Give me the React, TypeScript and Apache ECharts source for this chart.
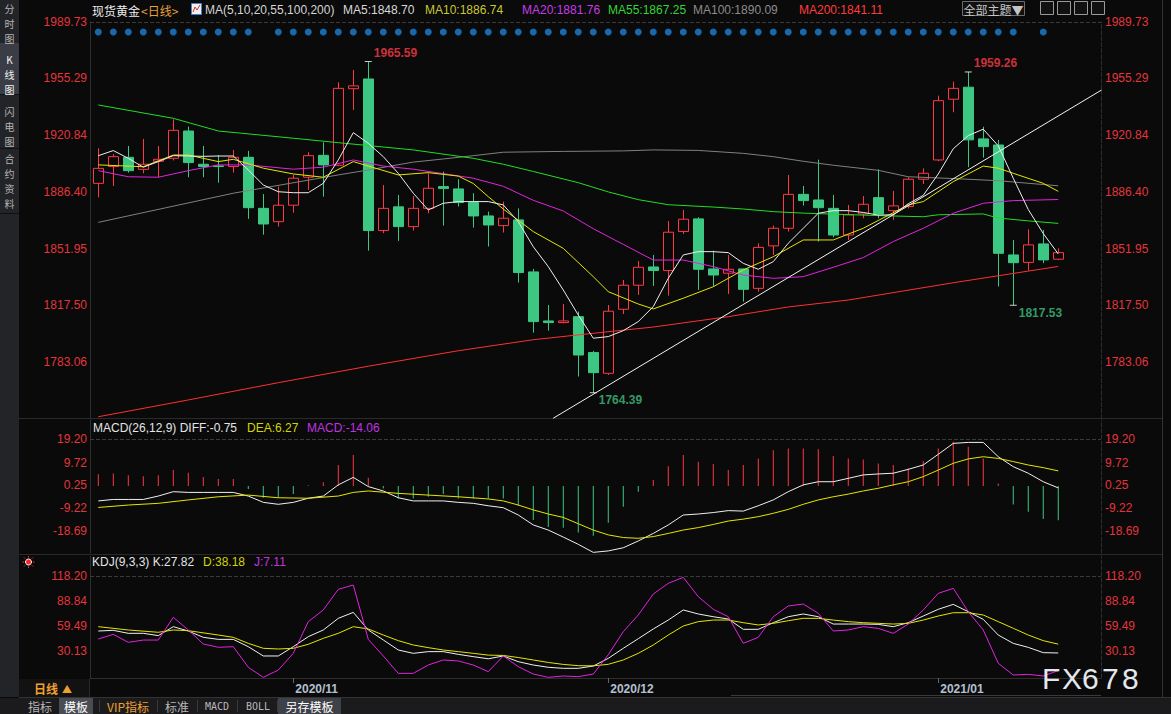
import React, { useEffect, useRef } from 'react';
import * as echarts from 'echarts';

// ---------- data ----------
const X_LABELS = ['2020/11', '2020/12', '2021/01'];
const X_LABEL_AT = [13, 34, 56];

const PRICE_TICKS = [1989.73, 1955.29, 1920.84, 1886.4, 1851.95, 1817.5, 1783.06];
const MACD_TICKS = [19.2, 9.72, 0.25, -9.22, -18.69];
const KDJ_TICKS = [118.2, 88.84, 59.49, 30.13];

const OPEN = [1891.6, 1901.8, 1907.4, 1900.1, 1905.0, 1906.8, 1923.4, 1903.2, 1902.2, 1901.8,
  1907.4, 1876.4, 1868.3, 1878.3, 1895.3, 1908.6, 1902.6, 1949.1, 1955.0, 1862.9,
  1877.3, 1865.3, 1876.4, 1889.6, 1888.2, 1879.9, 1871.8, 1865.9, 1869.4, 1837.8,
  1808.0, 1807.0, 1810.6, 1788.8, 1776.2, 1815.1, 1829.7, 1840.8, 1838.6, 1862.3,
  1870.0, 1839.6, 1837.0, 1839.6, 1827.8, 1853.6, 1864.3, 1884.9, 1881.5, 1876.4,
  1860.2, 1873.0, 1882.9, 1875.0, 1877.5, 1894.1, 1905.8, 1942.7, 1950.0, 1918.6,
  1914.9, 1848.1, 1843.6, 1854.8, 1845.5];
const CLOSE = [1900.7, 1907.8, 1899.3, 1903.2, 1906.2, 1923.8, 1904.2, 1901.8, 1901.8, 1907.4,
  1876.8, 1866.9, 1878.3, 1894.7, 1908.4, 1902.8, 1949.3, 1950.8, 1862.9, 1876.4,
  1865.3, 1876.4, 1888.6, 1888.4, 1879.9, 1871.8, 1866.3, 1870.4, 1837.4, 1807.6,
  1807.0, 1808.0, 1787.3, 1776.6, 1813.9, 1829.7, 1840.6, 1838.6, 1861.9, 1869.8,
  1839.4, 1835.9, 1839.4, 1827.2, 1852.7, 1864.3, 1884.9, 1881.1, 1876.8, 1860.2,
  1872.4, 1878.9, 1873.0, 1877.9, 1894.1, 1897.7, 1941.8, 1949.3, 1918.0, 1913.9,
  1849.1, 1843.4, 1854.2, 1845.1, 1849.5];
const LOW = [1883.1, 1890.0, 1898.1, 1897.7, 1895.3, 1905.5, 1895.3, 1895.3, 1892.0, 1898.1,
  1870.0, 1860.4, 1865.3, 1873.8, 1887.6, 1883.5, 1902.0, 1936.2, 1850.7, 1861.3,
  1856.6, 1862.9, 1873.4, 1865.9, 1877.5, 1864.7, 1853.2, 1861.7, 1831.3, 1800.9,
  1802.1, 1806.6, 1774.2, 1764.39, 1775.2, 1812.2, 1823.8, 1829.3, 1823.4, 1860.8,
  1826.8, 1828.9, 1824.4, 1819.7, 1825.8, 1848.1, 1862.3, 1878.1, 1856.2, 1858.8,
  1857.2, 1870.4, 1870.4, 1869.4, 1876.4, 1891.2, 1905.0, 1934.8, 1901.4, 1907.2,
  1828.9, 1817.53, 1838.6, 1843.1, 1845.0];
const HIGH = [1912.9, 1909.4, 1914.3, 1918.6, 1914.3, 1930.5, 1926.1, 1914.3, 1908.8, 1911.9,
  1911.3, 1885.1, 1889.6, 1896.7, 1910.5, 1916.5, 1953.0, 1960.5, 1965.59, 1890.6,
  1884.5, 1883.9, 1897.7, 1898.7, 1894.1, 1885.6, 1874.4, 1880.5, 1876.4, 1839.6,
  1817.7, 1818.3, 1813.7, 1789.8, 1817.7, 1832.9, 1844.4, 1848.1, 1868.7, 1875.4,
  1871.0, 1850.7, 1848.1, 1839.8, 1855.2, 1865.9, 1896.7, 1890.0, 1906.0, 1884.5,
  1878.5, 1883.9, 1900.1, 1887.0, 1895.3, 1900.7, 1944.9, 1953.4, 1959.26, 1926.0,
  1918.0, 1857.2, 1863.7, 1863.3, 1852.1];

const MA5 = [1908.4, 1911.5, 1906.8, 1901.4, 1904.8, 1908.4, 1908.2, 1908.0, 1908.2, 1908.2,
  1899.7, 1890.6, 1886.5, 1885.9, 1885.9, 1891.6, 1905.8, 1922.4, 1915.9, 1907.8,
  1897.7, 1885.6, 1875.4, 1879.5, 1880.5, 1880.5, 1880.5, 1878.5, 1868.3, 1853.1,
  1841.0, 1826.8, 1811.6, 1797.5, 1798.5, 1802.1, 1807.6, 1816.7, 1833.9, 1848.1,
  1850.1, 1850.1, 1849.5, 1843.0, 1839.4, 1844.0, 1855.2, 1864.3, 1873.4, 1875.0,
  1875.0, 1873.9, 1872.3, 1872.5, 1879.2, 1884.3, 1897.3, 1912.6, 1920.6, 1924.5,
  1914.4, 1894.7, 1875.7, 1861.1, 1848.7];
const MA10 = [[0, 1902.8], [3, 1901.7], [5, 1908.8], [6, 1908.8], [8, 1904.8], [9, 1906.2], [11, 1900.8],
  [13, 1897.3], [15, 1895.3], [17, 1904.8], [18, 1902.1], [20, 1896.7], [22, 1898.1], [24, 1896.0],
  [25, 1891.5], [26, 1883.5], [27, 1876.0], [29, 1862.3], [31, 1852.1], [33, 1834.9], [34, 1825.8],
  [36, 1818.3], [37, 1815.3], [39, 1821.8], [41, 1828.8], [43, 1839.0], [44, 1843.0], [45, 1847.0],
  [47, 1857.2], [49, 1857.2], [51, 1864.3], [54, 1878.5], [55, 1880.5], [57, 1892.6], [59, 1902.1],
  [60, 1900.8], [61, 1897.7], [63, 1891.6], [64, 1886.74]];
const MA20 = [[0, 1899.3], [2, 1895.6], [4, 1895.3], [6, 1899.3], [8, 1902.8], [10, 1902.8], [13, 1900.2],
  [15, 1901.4], [17, 1905.8], [19, 1902.1], [21, 1900.2], [23, 1897.5], [25, 1894.7], [27, 1889.8],
  [29, 1881.3], [31, 1874.8], [33, 1864.0], [35, 1854.5], [37, 1845.0], [39, 1845.0], [41, 1841.0],
  [43, 1835.9], [45, 1833.9], [47, 1834.9], [49, 1840.6], [51, 1846.5], [53, 1856.2], [55, 1864.3],
  [57, 1873.4], [59, 1879.5], [61, 1881.1], [64, 1881.76]];
const MA55 = [[0, 1939.2], [5, 1931.1], [8, 1923.4], [13, 1919.0], [16, 1916.3], [21, 1911.9], [25, 1906.8],
  [27, 1903.2], [29, 1898.8], [32, 1892.0], [34, 1886.4], [36, 1881.7], [38, 1878.6], [41, 1877.2],
  [43, 1876.0], [45, 1874.4], [47, 1873.5], [50, 1872.6], [52, 1872.0], [55, 1871.3], [56, 1872.5],
  [59, 1873.0], [60, 1870.5], [62, 1868.8], [64, 1867.25]];
const MA100 = [[0, 1867.9], [9, 1885.6], [16, 1896.7], [18, 1899.7], [21, 1904.5], [23, 1906.4], [25, 1908.4],
  [27, 1910.5], [31, 1911.0], [35, 1911.3], [37, 1911.9], [40, 1911.6], [43, 1909.8], [45, 1907.8],
  [47, 1905.0], [49, 1902.6], [52, 1899.5], [54, 1895.6], [57, 1894.5], [60, 1893.2], [64, 1890.09]];
const MA200 = [[0, 1749.8], [6, 1760.0], [12, 1770.5], [18, 1780.5], [24, 1789.9], [29, 1796.6], [33, 1800.5],
  [37, 1804.3], [42, 1810.6], [46, 1816.5], [50, 1820.7], [57, 1831.2], [64, 1841.11]];
const TRENDLINE = [[30.33, 1748.9], [66.89, 1948.3]];

const MARK_IDX = [18, 33, 58, 61];
const MARK_VAL = [1965.59, 1764.39, 1959.26, 1817.53];
const MARK_HIGH = [true, false, true, false];

const EVENT_IDX = [0, 1, 2, 3, 4, 5, 6, 7, 8, 9, 10, 12, 13, 14, 15, 16, 17, 18, 19, 20, 21, 22, 23, 24, 25, 26,
  27, 28, 29, 30, 31, 32, 33, 34, 35, 36, 37, 38, 39, 40, 41, 42, 43, 44, 45, 46, 47, 48, 49, 50, 51, 52, 53,
  54, 55, 56, 57, 58, 59, 60, 61, 63];

const MACD_HIST = [4.9, 5.2, 4.5, 4.1, 4.5, 6.6, 5.5, 3.7, 2.9, 2.9,
  -1.2, -4.8, -4.8, -3.3, 0.4, 1.6, 8.7, 12.8, 3.4, -1.0,
  -5.1, -5.1, -4.4, -3.3, -5.1, -5.1, -5.1, -5.1, -8.1, -14.0,
  -16.8, -17.2, -19.1, -20.5, -15.1, -8.5, -2.3, 2.5, 8.2, 12.8,
  10.0, 9.1, 6.6, 8.7, 11.4, 14.8, 15.5, 15.5, 15.2, 12.4,
  11.4, 11.0, 9.3, 8.7, 7.3, 10.3, 15.5, 18.3, 16.2, 11.4,
  1.1, -7.6, -10.6, -13.6, -14.06];
const DIFF = [-6.1, -5.5, -5.5, -5.5, -4.1, -2.3, -2.6, -2.6, -2.6, -2.6,
  -4.1, -6.7, -7.5, -6.7, -5.0, -4.1, 0.5, 3.6, -0.2, -2.0,
  -4.8, -6.1, -6.1, -6.1, -6.7, -7.1, -8.1, -8.9, -11.9, -16.0,
  -18.1, -21.0, -24.0, -27.3, -26.7, -25.4, -22.6, -19.5, -16.0, -11.9,
  -11.5, -10.9, -10.1, -10.3, -8.1, -5.7, -2.3, 0.5, 1.8, 1.8,
  3.2, 4.6, 5.0, 5.3, 6.9, 8.7, 13.1, 17.6, 18.0, 18.0,
  12.1, 8.0, 5.3, 1.8, -0.75];
const DEA = [[0, -8.8], [2, -7.8], [4, -7.1], [6, -5.7], [8, -4.4], [10, -3.7], [12, -4.8], [14, -5.0],
  [16, -4.1], [17, -2.6], [18, -2.0], [20, -3.0], [22, -3.7], [24, -4.4], [26, -5.3], [27, -6.1],
  [28, -7.8], [29, -9.8], [30, -11.5], [31, -12.9], [32, -15.5], [33, -18.1], [34, -20.1], [35, -21.2],
  [36, -21.5], [37, -20.8], [38, -19.5], [39, -18.1], [40, -17.1], [41, -15.8], [42, -14.4], [43, -13.6],
  [44, -12.6], [45, -11.2], [46, -9.6], [47, -7.5], [48, -5.7], [49, -4.4], [50, -3.3], [51, -2.0],
  [52, -0.9], [53, 0.5], [54, 1.8], [55, 3.9], [56, 6.6], [57, 9.4], [58, 11.2], [59, 12.1], [60, 11.4],
  [61, 10.1], [62, 8.7], [63, 7.6], [64, 6.27]];

const K_LINE = [53.6, 54.4, 50.9, 50.9, 48.2, 58.7, 53.6, 46.2, 43.8, 43.8,
  35.2, 24.3, 24.3, 35.2, 47.0, 54.8, 68.5, 75.5, 54.8, 43.1,
  31.3, 27.4, 29.4, 29.4, 26.2, 23.5, 21.0, 24.3, 17.6, 13.7,
  11.0, 9.8, 9.8, 12.5, 21.5, 33.3, 44.6, 56.0, 66.5, 78.3,
  73.6, 70.4, 67.7, 55.6, 55.6, 63.4, 70.4, 73.6, 70.4, 61.8,
  61.8, 61.8, 61.4, 58.7, 63.4, 71.2, 79.1, 84.9, 76.3, 67.3,
  48.9, 39.1, 34.4, 28.2, 27.82];
const D_LINE = [[0, 58.7], [2, 54.8], [4, 52.1], [5, 54.8], [6, 54.0], [8, 48.9], [9, 46.2], [10, 39.1],
  [11, 33.3], [12, 32.5], [13, 33.3], [14, 38.0], [15, 45.0], [16, 50.9], [17, 58.7], [18, 56.0],
  [19, 48.9], [20, 42.3], [21, 37.2], [22, 34.1], [23, 31.3], [24, 29.4], [25, 27.4], [26, 25.3],
  [27, 24.9], [28, 22.5], [29, 19.6], [30, 16.7], [31, 14.4], [32, 12.9], [33, 12.7], [34, 14.5],
  [35, 19.6], [36, 27.4], [37, 37.2], [38, 48.9], [39, 59.5], [40, 64.6], [41, 66.5], [42, 66.5],
  [43, 63.4], [44, 60.7], [45, 62.6], [46, 65.7], [47, 68.5], [48, 68.5], [49, 66.5], [50, 64.6],
  [51, 63.4], [52, 62.6], [53, 61.8], [54, 62.6], [55, 66.5], [56, 71.2], [57, 75.1], [58, 75.1],
  [59, 72.4], [60, 64.6], [61, 56.8], [62, 48.9], [63, 42.3], [64, 38.18]];
const J_LINE = [44.2, 49.7, 40.3, 43.0, 43.0, 69.7, 54.8, 38.4, 34.5, 35.2,
  11.0, -0.8, 7.8, 27.4, 64.6, 78.3, 102.5, 107.6, 43.8, 24.3,
  3.9, 3.9, 13.7, 19.6, 18.4, 13.7, 5.9, 24.3, 11.7, 3.1,
  -0.8, 0.8, 0.0, 3.1, 25.8, 52.8, 72.4, 97.1, 109.6, 116.6,
  93.9, 79.1, 70.4, 39.1, 46.2, 70.4, 83.0, 85.3, 74.4, 53.6,
  54.8, 58.7, 56.7, 50.9, 61.8, 78.3, 97.8, 103.7, 76.3, 54.8,
  15.7, 2.0, 2.7, 0.8, 7.11];

const SIDE_TABS = ['分\n时\n图', 'K\n线\n图', '闪\n电\n图', '合\n约\n资\n料'];

// ---------- style ----------
const BG = '#0a0a0a';
const RED = '#ff3846';
const GREEN = '#3cc882';
const AXIS_TXT = '#e2363c';
const SANS = '"Liberation Sans", Arial, sans-serif';
const CJK = '"Noto Sans CJK SC", "Liberation Sans", sans-serif';

const X_MIN = -0.553;
const X_MAX = 66.85;
const P_MIN = 1748.615;
const P_MAX = 1989.73;
const M_MIN = -27.56;
const M_MAX = 27.23;
const K_MIN = -1.56;
const K_MAX = 141.68;

function buildOption(): any {
  const hiddenX = (g: number) => ({ type: 'value', gridIndex: g, min: X_MIN, max: X_MAX, show: false });
  const yAx = (g: number, pos: string, min: number, max: number, ticks: number[]) => ({
    type: 'value', gridIndex: g, position: pos, min, max,
    axisLine: { show: true, onZero: false, lineStyle: { color: '#2e2e2e', type: pos === 'left' ? 'solid' : 'dashed' } },
    axisTick: { show: false },
    splitLine: { show: false },
    axisLabel: {
      customValues: ticks, formatter: (v: number) => v.toFixed(2), color: AXIS_TXT,
      fontSize: 12, fontFamily: SANS, margin: pos === 'left' ? 3 : 4,
    },
  });
  const lineS = (data: any[], color: string, xi: number, yi: number, z = 4) => ({
    type: 'line', xAxisIndex: xi, yAxisIndex: yi, data, symbol: 'none', showSymbol: false,
    silent: true, lineStyle: { color, width: 1 }, z, clip: true,
  });
  const topDash = (v: number) => ({
    silent: true, symbol: ['none', 'none'], label: { show: false },
    lineStyle: { color: '#3a3a3a', type: 'dashed', width: 1 }, data: [{ yAxis: v }],
  });

  const G: any[] = [];
  const rect = (x: number, y: number, w: number, h: number, fill: string, extra: any = {}) =>
    G.push({ type: 'rect', silent: true, shape: { x, y, width: w, height: h }, style: { fill, ...extra } });
  const line = (x1: number, y1: number, x2: number, y2: number, stroke: string, dash?: number[]) =>
    G.push({ type: 'line', silent: true, shape: { x1, y1, x2, y2 }, style: { stroke, lineWidth: 1, lineDash: dash } });
  const text = (x: number, y: number, t: string, fill: string, o: any = {}) =>
    G.push({
      type: 'text', silent: true, x, y, z: o.z ?? 10,
      style: { text: t, fill, fontSize: 12, fontFamily: SANS, align: 'left', verticalAlign: 'middle', ...o },
    });

  // left sidebar
  rect(0, 0, 19, 697, '#232428');
  rect(0, 43, 19, 51, '#3a3d45');
  line(0, 94.5, 19, 94.5, '#111');
  line(0, 148.5, 19, 148.5, '#111');
  line(0, 213.5, 19, 213.5, '#111');
  const sideY = [23, 74, 126, 181];
  SIDE_TABS.forEach((t, k) =>
    text(9.5, sideY[k], t, k === 1 ? '#f4f4f4' : '#b4b4b4',
      { align: 'center', fontFamily: CJK, fontSize: 10, lineHeight: 15 }));

  // panel separators
  line(19, 418.5, 1162, 418.5, '#2a2a2a');
  line(19, 554.5, 1162, 554.5, '#2a2a2a');
  line(19, 697.5, 1171, 697.5, '#333');
  line(1162.5, 0, 1162.5, 697, '#333');
  line(731, 695.5, 1101, 695.5, '#3a3a3a');

  // header
  text(92, 10, '现货黄金', '#ececec', { fontFamily: CJK });
  text(141, 10, '<日线>', '#e6a03c', { fontFamily: CJK });
  rect(191.5, 3.5, 10, 11, '#f0f0f0', { stroke: '#4a7fd0', lineWidth: 1 });
  G.push({ type: 'polyline', silent: true, shape: { points: [[193, 12], [195, 7], [197, 10], [200, 5]] }, style: { stroke: '#e03030', lineWidth: 1, fill: 'none' } });
  text(205, 10, 'MA(5,10,20,55,100,200)', '#d4d4d4');
  text(343, 10, 'MA5:1848.70', '#d8d8d8');
  text(425, 10, 'MA10:1886.74', '#c8c832');
  text(522, 10, 'MA20:1881.76', '#c83ce8');
  text(608, 10, 'MA55:1867.25', '#34d434');
  text(693, 10, 'MA100:1890.09', '#8c8c8c');
  text(799, 10, 'MA200:1841.11', '#ff3c3c');
  rect(962.5, 1.5, 62, 14, '#111', { stroke: '#6c6c6c', lineWidth: 1 });
  text(993.5, 9, '全部主题▼', '#c4c4c4', { align: 'center', fontFamily: CJK, fontSize: 12 });
  [1040, 1057, 1074, 1091].forEach((x) => rect(x + 0.5, 1.5, 13, 13, '#111', { stroke: '#9a9a9a', lineWidth: 1 }));

  // MACD title
  text(93, 427.5, 'MACD(26,12,9) DIFF:-0.75', '#e4e4e4');
  text(247, 427.5, 'DEA:6.27', '#d4d400');
  text(307, 427.5, 'MACD:-14.06', '#c034e0');

  // KDJ title
  G.push({ type: 'circle', silent: true, shape: { cx: 28.5, cy: 562, r: 3 }, style: { fill: '#ff2020', stroke: '#ffffff', lineWidth: 1 } });
  [[0, -6], [0, 6], [-6, 0], [6, 0], [-4.5, -4.5], [4.5, 4.5], [-4.5, 4.5], [4.5, -4.5]].forEach(([dx, dy]) =>
    line(28.5 + dx * 0.75, 562 + dy * 0.75, 28.5 + dx, 562 + dy, '#ff3030'));
  text(92, 562, 'KDJ(9,3,3) K:27.82', '#e4e4e4');
  text(203, 562, 'D:38.18', '#d4d400');
  text(254, 562, 'J:7.11', '#c034e0');

  // bottom-left period box
  rect(19, 679, 70, 18, '#121212');
  line(89.5, 679, 89.5, 697, '#2a2a2a');
  text(34, 688, '日线', '#f0a030', { fontFamily: CJK, fontWeight: 'bold' });
  text(62, 688, '▲', '#f0a030', { fontFamily: CJK, fontSize: 10 });

  // bottom tabs
  rect(0, 698, 1171, 16, '#1b1b1d');
  rect(59, 698, 34, 16, '#4a4c54');
  rect(278, 698, 63, 16, '#3f4149');
  [99.5, 157.5, 197.5, 237.5, 277.5].forEach((x) => line(x, 700, x, 712, '#3a3a3a'));
  text(40, 706, '指标', '#b8b8b8', { align: 'center', fontFamily: CJK });
  text(76, 706, '模板', '#ffffff', { align: 'center', fontFamily: CJK });
  text(128, 706, 'VIP指标', '#f0a030', { align: 'center', fontFamily: CJK });
  text(177, 706, '标准', '#b8b8b8', { align: 'center', fontFamily: CJK });
  text(217, 706, 'MACD', '#b8b8b8', { align: 'center', fontFamily: '"DejaVu Sans Mono", monospace', fontSize: 10 });
  text(258, 706, 'BOLL', '#b8b8b8', { align: 'center', fontFamily: '"DejaVu Sans Mono", monospace', fontSize: 10 });
  text(309.5, 706, '另存模板', '#ffffff', { align: 'center', fontFamily: CJK });

  // watermark
  'FX678'.split('').forEach((c, k) =>
    text(1042 + k * 20, 678, c, '#e4e7ec', { fontSize: 30, fontFamily: SANS, z: 100 }));

  const series: any[] = [
    {
      type: 'candlestick', xAxisIndex: 0, yAxisIndex: 0, barWidth: 11, silent: true, z: 3,
      data: OPEN.map((o, i) => [i, o, CLOSE[i], LOW[i], HIGH[i]]),
      itemStyle: { color: BG, color0: GREEN, borderColor: RED, borderColor0: GREEN, borderWidth: 1 },
      markLine: topDash(P_MAX),
    },
    lineS(MA200, '#ff3030', 0, 0),
    lineS(MA100, '#808080', 0, 0),
    lineS(MA55, '#22dd22', 0, 0),
    lineS(MA20, '#e024e0', 0, 0),
    lineS(MA10, '#e6e600', 0, 0),
    lineS(MA5.map((v, i) => [i, v]), '#eeeeee', 0, 0, 5),
    lineS(TRENDLINE, '#f4f4f4', 0, 0, 6),
    {
      type: 'scatter', xAxisIndex: 0, yAxisIndex: 0, symbol: 'rect', symbolSize: [7, 1], silent: true, z: 7,
      itemStyle: { color: '#ffffff' },
      data: MARK_IDX.map((x, k) => ({
        value: [x, MARK_VAL[k]],
        label: {
          show: true, formatter: MARK_VAL[k].toFixed(2), position: 'right', distance: 0,
          offset: MARK_HIGH[k] ? [2, -8.5] : [2, 7.5],
          color: MARK_HIGH[k] ? '#ff3c48' : '#40c080', fontWeight: 'bold', fontSize: 12, fontFamily: SANS,
        },
      })),
    },
    {
      type: 'bar', xAxisIndex: 1, yAxisIndex: 2, barWidth: 1, silent: true,
      data: MACD_HIST.map((v, i) => ({ value: [i, v], itemStyle: { color: v >= 0 ? RED : GREEN } })),
      markLine: topDash(19.2),
    },
    lineS(DIFF.map((v, i) => [i, v]), '#f0f0f0', 1, 2),
    lineS(DEA, '#e6e600', 1, 2),
    { ...lineS(K_LINE.map((v, i) => [i, v]), '#f0f0f0', 2, 4), markLine: topDash(118.2) },
    lineS(D_LINE, '#e6e600', 2, 4),
    lineS(J_LINE.map((v, i) => [i, v]), '#e024e0', 2, 4),
    {
      type: 'scatter', xAxisIndex: 3, yAxisIndex: 6, symbol: 'circle', symbolSize: 7, silent: true,
      itemStyle: { color: '#1c7fd6' }, data: EVENT_IDX.map((i) => [i, 0.5]),
    },
  ];

  return {
    animation: false,
    backgroundColor: BG,
    grid: [
      { left: 90, right: 70, top: 21.8, height: 396.9 },
      { left: 90, right: 70, top: 420, height: 133 },
      { left: 90, right: 70, top: 556, height: 122 },
      { left: 90, right: 70, top: 25, height: 14 },
    ],
    xAxis: [
      hiddenX(0), hiddenX(1),
      {
        type: 'value', gridIndex: 2, min: X_MIN, max: X_MAX,
        axisLine: { show: true, onZero: false, lineStyle: { color: '#2e2e2e' } },
        axisTick: { show: true, customValues: X_LABEL_AT, length: 5, lineStyle: { color: '#666' } },
        splitLine: { show: false },
        axisLabel: {
          customValues: X_LABEL_AT,
          formatter: (v: number) => X_LABELS[X_LABEL_AT.indexOf(Math.round(v))] ?? '',
          color: '#b4c0d0', fontWeight: 'bold', fontSize: 12, fontFamily: SANS, align: 'left', margin: 5,
          padding: [0, 0, 0, 2],
        },
      },
      hiddenX(3),
    ],
    yAxis: [
      yAx(0, 'left', P_MIN, P_MAX, PRICE_TICKS),
      yAx(0, 'right', P_MIN, P_MAX, PRICE_TICKS),
      yAx(1, 'left', M_MIN, M_MAX, MACD_TICKS),
      yAx(1, 'right', M_MIN, M_MAX, MACD_TICKS),
      yAx(2, 'left', K_MIN, K_MAX, KDJ_TICKS),
      yAx(2, 'right', K_MIN, K_MAX, KDJ_TICKS),
      { type: 'value', gridIndex: 3, min: 0, max: 1, show: false },
    ],
    graphic: { elements: G },
    series,
  };
}

export default function App() {
  const ref = useRef<HTMLDivElement>(null);
  useEffect(() => {
    document.body.style.margin = '0';
    document.body.style.background = BG;
    const chart = echarts.init(ref.current as HTMLDivElement, null, { renderer: 'svg' });
    chart.setOption(buildOption());
    return () => chart.dispose();
  }, []);
  return (
    <div
      ref={ref}
      style={{ position: 'absolute', left: 0, top: 0, width: 1171, height: 714, background: BG }}
    />
  );
}
